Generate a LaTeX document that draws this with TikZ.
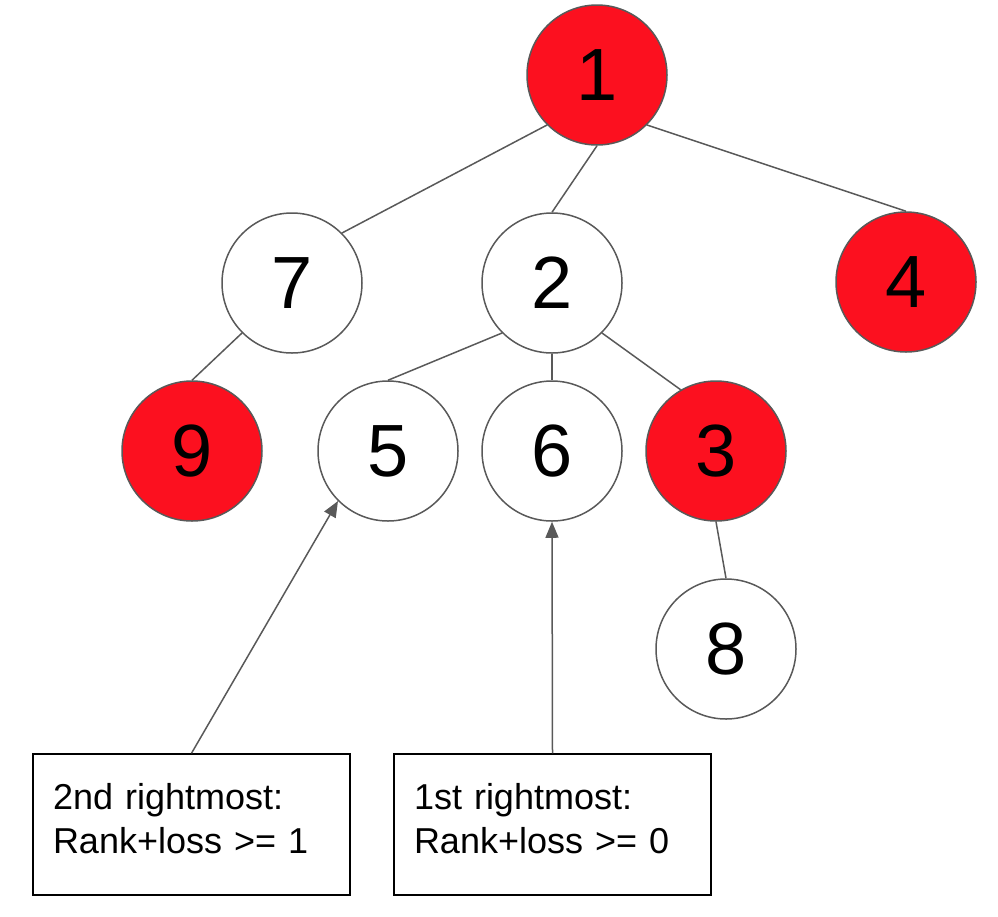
\documentclass[tikz,border=0pt]{standalone}
\usepackage{fontspec}
\setmainfont{Liberation Sans}
\usetikzlibrary{arrows.meta}
\definecolor{nodered}{RGB}{252,16,31}
\definecolor{edgegray}{RGB}{89,89,89}
\tikzset{
  tnode/.style={circle, draw=edgegray, line width=1.5pt, fill=white, minimum size=140pt, inner sep=0pt, font=\fontsize{74}{80}\selectfont},
  rednode/.style={tnode, fill=nodered},
  edge/.style={draw=edgegray, line width=1.5pt},
  pointer/.style={edge, -{Triangle[length=16pt,width=13pt]}},
  notebox/.style={draw=black, line width=1.5pt, rectangle, minimum width=317pt, minimum height=141pt, text width=277pt, inner sep=0pt, align=left, font=\fontsize{36}{44}\selectfont}
}
\begin{document}
\begin{tikzpicture}[x=1pt,y=-1pt]
\useasboundingbox (0,0) rectangle (998,916);
\node[rednode] (n1) at (597,75) {1};
\node[tnode]   (n7) at (292,283) {7};
\node[tnode]   (n2) at (552,283) {2};
\node[rednode] (n4) at (906,282) {4};
\node[rednode] (n9) at (192,451) {9};
\node[tnode]   (n5) at (388,451) {5};
\node[tnode]   (n6) at (552,451) {6};
\node[rednode] (n3) at (716,451) {3};
\node[tnode]   (n8) at (726,649) {8};
\node[notebox] (b1) at (191.5,824.5) {2nd rightmost:\\Rank+loss >= 1\\[-31pt]\mbox{}};
\node[notebox] (b2) at (552.5,824.5) {1st rightmost:\\Rank+loss >= 0\\[-31pt]\mbox{}};
\path[edge] (n1.-135) -- (n7.45);
\path[edge] (n1.south) -- (n2.north);
\path[edge] (n1.-45) -- (n4.north);
\path[edge] (n7.-135) -- (n9.north);
\path[edge] (n2.-135) -- (n5.north);
\path[edge] (n2.south) -- (n6.north);
\path[edge] (n2.-45) -- (n3.120);
\path[edge] (n3.south) -- (n8.north);
\path[pointer] (b1.north) -- (n5.-135);
\path[pointer] (b2.north) -- (n6.south);
\end{tikzpicture}
\end{document}
